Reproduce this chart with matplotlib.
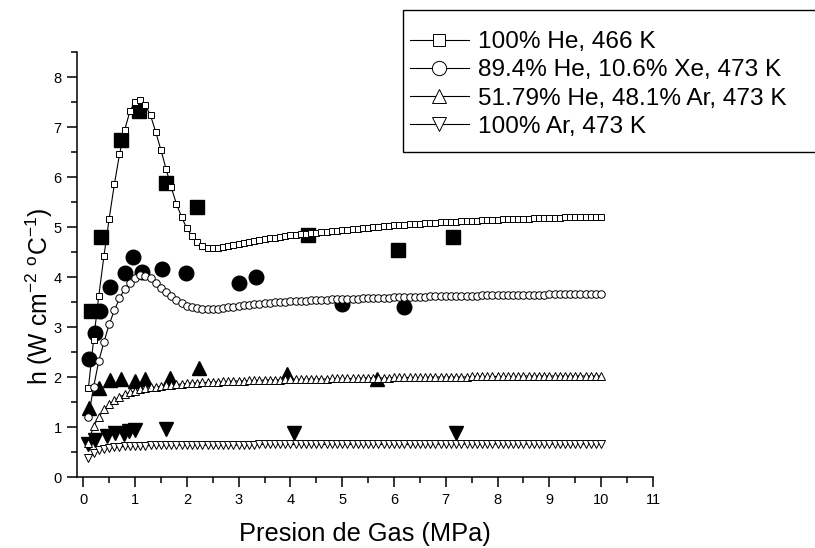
import numpy as np
import matplotlib.pyplot as plt
from matplotlib.patches import Rectangle
from matplotlib.ticker import MultipleLocator

plt.rcParams['font.family'] = ['Liberation Sans', 'DejaVu Sans']
plt.rcParams['mathtext.fontset'] = 'custom'
plt.rcParams['mathtext.rm'] = 'Liberation Sans'
plt.rcParams['mathtext.it'] = 'Liberation Sans:italic'

labels = ['100% He, 466 K', '89.4% He, 10.6% Xe, 473 K',
          '51.79% He, 48.1% Ar, 473 K', '100% Ar, 473 K']

# model curves, pressure 0.1 .. 10 MPa every 0.1 MPa
x_model = np.arange(1, 101) / 10

he_model = [1.79, 2.75, 3.63, 4.43, 5.17, 5.86, 6.46, 6.95, 7.32, 7.51,
            7.55, 7.45, 7.24, 6.91, 6.55, 6.17, 5.80, 5.47, 5.21, 4.98,
            4.83, 4.71, 4.63, 4.59, 4.58, 4.58, 4.60, 4.62, 4.64, 4.66,
            4.68, 4.70, 4.72, 4.74, 4.76, 4.78, 4.79, 4.81, 4.82, 4.84,
            4.85, 4.86, 4.87, 4.88, 4.89, 4.90, 4.91, 4.92, 4.93, 4.94,
            4.95, 4.96, 4.97, 4.98, 4.99, 5.00, 5.01, 5.02, 5.03, 5.04,
            5.05, 5.05, 5.06, 5.07, 5.07, 5.08, 5.09, 5.09, 5.10, 5.10,
            5.11, 5.11, 5.12, 5.12, 5.13, 5.13, 5.14, 5.14, 5.15, 5.15,
            5.16, 5.16, 5.16, 5.17, 5.17, 5.17, 5.18, 5.18, 5.18, 5.19,
            5.19, 5.19, 5.20, 5.20, 5.20, 5.20, 5.21, 5.21, 5.21, 5.21]

xe_model = [1.21, 1.81, 2.33, 2.71, 3.06, 3.34, 3.58, 3.77, 3.89, 3.99,
            4.04, 4.03, 3.98, 3.89, 3.79, 3.71, 3.63, 3.55, 3.48, 3.43,
            3.40, 3.38, 3.37, 3.36, 3.36, 3.37, 3.38, 3.40, 3.41, 3.43,
            3.44, 3.45, 3.46, 3.47, 3.48, 3.49, 3.50, 3.50, 3.51, 3.52,
            3.52, 3.53, 3.53, 3.54, 3.54, 3.55, 3.55, 3.56, 3.56, 3.56,
            3.57, 3.57, 3.57, 3.58, 3.58, 3.58, 3.59, 3.59, 3.59, 3.60,
            3.60, 3.60, 3.61, 3.61, 3.61, 3.61, 3.62, 3.62, 3.62, 3.62,
            3.62, 3.63, 3.63, 3.63, 3.63, 3.63, 3.64, 3.64, 3.64, 3.64,
            3.64, 3.64, 3.65, 3.65, 3.65, 3.65, 3.65, 3.65, 3.65, 3.66,
            3.66, 3.66, 3.66, 3.66, 3.66, 3.66, 3.66, 3.66, 3.66, 3.66]

arhe_model = [0.69, 1.03, 1.21, 1.36, 1.46, 1.54, 1.61, 1.66, 1.70, 1.73,
              1.76, 1.78, 1.80, 1.81, 1.83, 1.84, 1.85, 1.86, 1.87, 1.88,
              1.89, 1.89, 1.90, 1.90, 1.91, 1.91, 1.92, 1.92, 1.93, 1.93,
              1.93, 1.94, 1.94, 1.94, 1.95, 1.95, 1.95, 1.95, 1.96, 1.96,
              1.96, 1.96, 1.97, 1.97, 1.97, 1.97, 1.97, 1.98, 1.98, 1.98,
              1.98, 1.98, 1.98, 1.99, 1.99, 1.99, 1.99, 1.99, 1.99, 2.00,
              2.00, 2.00, 2.00, 2.00, 2.00, 2.00, 2.01, 2.01, 2.01, 2.01,
              2.01, 2.01, 2.01, 2.01, 2.02, 2.02, 2.02, 2.02, 2.02, 2.02,
              2.02, 2.02, 2.02, 2.02, 2.03, 2.03, 2.03, 2.03, 2.03, 2.03,
              2.03, 2.03, 2.03, 2.03, 2.03, 2.03, 2.03, 2.03, 2.03, 2.03]

ar_model = [0.38, 0.48, 0.54, 0.57, 0.59, 0.60, 0.61, 0.62, 0.62, 0.63,
            0.63, 0.63, 0.64, 0.64, 0.64, 0.64, 0.64, 0.65, 0.65, 0.65,
            0.65, 0.65, 0.65, 0.65, 0.65, 0.65, 0.65, 0.65, 0.65, 0.65,
            0.65, 0.65, 0.65, 0.66, 0.66, 0.66, 0.66, 0.66, 0.66, 0.66,
            0.66, 0.66, 0.66, 0.66, 0.66, 0.66, 0.66, 0.66, 0.66, 0.66,
            0.66, 0.66, 0.66, 0.66, 0.66, 0.66, 0.66, 0.66, 0.66, 0.66,
            0.66, 0.66, 0.66, 0.66, 0.66, 0.67, 0.67, 0.67, 0.67, 0.67,
            0.67, 0.67, 0.67, 0.67, 0.67, 0.67, 0.67, 0.67, 0.67, 0.67,
            0.67, 0.67, 0.67, 0.67, 0.67, 0.67, 0.67, 0.67, 0.67, 0.67,
            0.67, 0.67, 0.67, 0.67, 0.67, 0.67, 0.67, 0.67, 0.67, 0.67]

# measured points (filled symbols)
he_exp_x = [0.15, 0.34, 0.73, 1.07, 1.60, 2.20, 4.33, 6.08, 7.14]
he_exp_y = [3.33, 4.81, 6.74, 7.33, 5.88, 5.41, 4.84, 4.54, 4.81]
xe_exp_x = [0.12, 0.22, 0.33, 0.52, 0.80, 0.96, 1.13, 1.53, 1.99, 3.00, 3.34, 5.00, 6.20]
xe_exp_y = [2.36, 2.89, 3.33, 3.81, 4.08, 4.41, 4.11, 4.16, 4.08, 3.88, 4.01, 3.46, 3.41]
arhe_exp_x = [0.12, 0.30, 0.51, 0.73, 0.99, 1.20, 1.67, 2.23, 3.94, 5.68]
arhe_exp_y = [1.39, 1.79, 1.94, 1.97, 1.93, 1.97, 1.99, 2.19, 2.06, 1.96]
ar_exp_x = [0.10, 0.23, 0.46, 0.62, 0.78, 0.88, 1.00, 1.60, 4.07, 7.20]
ar_exp_y = [0.66, 0.75, 0.83, 0.89, 0.86, 0.93, 0.95, 0.97, 0.88, 0.89]

fig = plt.figure(figsize=(8.15, 5.48), dpi=100, facecolor='w')
ax = fig.add_axes([0.0945, 0.1287, 0.7067, 0.7755])

exp_sets = [(he_exp_x, he_exp_y, 's', 9.5), (xe_exp_x, xe_exp_y, 'o', 10.5),
            (arhe_exp_x, arhe_exp_y, '^', 10.5), (ar_exp_x, ar_exp_y, 'v', 10.5)]
for xs, ys, m, ms in exp_sets:
    ax.plot(xs, ys, ls='none', marker=m, ms=ms, mfc='k', mec='k', zorder=2)

models = [(he_model, 's', 4.6), (xe_model, 'o', 5.4), (arhe_model, '^', 5.6), (ar_model, 'v', 5.6)]
for (ys, m, ms), label in zip(models, labels):
    ax.plot(x_model, ys, color='k', lw=0.8, marker=m, ms=ms, mfc='w', mec='k',
            mew=0.7, label=label, zorder=3)

ax.set_xlim(-0.12, 11)
ax.set_ylim(0, 8.5)
ax.xaxis.set_major_locator(MultipleLocator(1))
ax.xaxis.set_minor_locator(MultipleLocator(0.5))
ax.yaxis.set_major_locator(MultipleLocator(1))
ax.yaxis.set_minor_locator(MultipleLocator(0.5))
ax.tick_params(which='major', direction='out', length=7, width=1.1, labelsize=10.5, pad=4)
ax.tick_params(which='minor', direction='out', length=4, width=1.1)
for spine in ('top', 'right'):
    ax.spines[spine].set_visible(False)
for spine in ('bottom', 'left'):
    ax.spines[spine].set_linewidth(1.1)

ax.set_xlabel('Presion de Gas (MPa)', fontsize=18.3, labelpad=11)
ax.set_ylabel(r'h (W cm$^{-2}$ $^{\rm o}$C$^{-1}$)', fontsize=17.8)
ax.yaxis.set_label_coords(-0.039, 0.426)

# legend: frame drawn separately, it runs off the right edge
legend = ax.legend(loc='upper left', bbox_to_anchor=(410 / 815, 1 - 31 / 548),
                   bbox_transform=fig.transFigure, fontsize=17.6, markerscale=1.9,
                   handlelength=2.4, handletextpad=0.37, labelspacing=0.25,
                   borderpad=0, borderaxespad=0, frameon=False)
fig.patches.append(Rectangle((403 / 815, 1 - 152 / 548), 0.6, 142 / 548,
                             transform=fig.transFigure, fill=False,
                             edgecolor='k', lw=1.0))

plt.savefig('out.png', dpi=100)
